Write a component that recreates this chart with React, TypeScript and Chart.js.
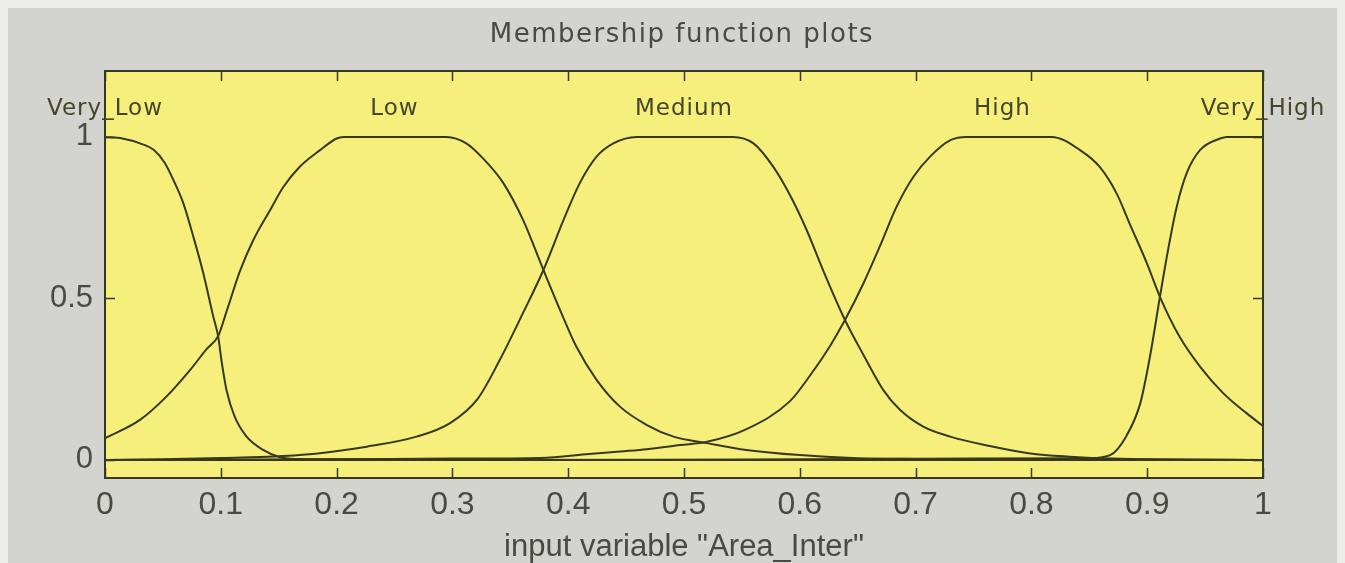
import React, { useEffect, useRef } from 'react';
import { Chart, registerables } from 'chart.js';

Chart.register(...registerables);

// ---- text ----
const TITLE = 'Membership function plots';
const X_TITLE = 'input variable "Area_Inter"';

// ---- ticks ----
const X_TICKS = [0, 0.1, 0.2, 0.3, 0.4, 0.5, 0.6, 0.7, 0.8, 0.9, 1];
const X_TICK_LABELS = ['0', '0.1', '0.2', '0.3', '0.4', '0.5', '0.6', '0.7', '0.8', '0.9', '1'];
const Y_TICKS = [0, 0.5, 1];
const Y_TICK_LABELS = ['0', '0.5', '1'];

// ---- membership function names and label positions ----
const MF_NAMES = ['Very_Low', 'Low', 'Medium', 'High', 'Very_High'];
const MF_LABEL_X = [0, 0.25, 0.5, 0.775, 1];
const MF_LABEL_Y = 1.067;

// ---- series ----
const VERY_LOW_X = [0, 0.015, 0.0302, 0.042, 0.0515, 0.059, 0.0676, 0.0763, 0.0849, 0.0935, 0.0978, 0.1007, 0.105, 0.112, 0.1223, 0.1366, 0.151, 0.165, 0.2, 0.3, 0.5, 0.7, 1];
const VERY_LOW_Y = [1, 0.995, 0.98, 0.96, 0.92, 0.867, 0.795, 0.691, 0.578, 0.444, 0.381, 0.305, 0.215, 0.134, 0.072, 0.031, 0.008, 0.003, 0.002, 0.001, 0, 0, 0];

const LOW_X = [0, 0.0302, 0.053, 0.0734, 0.0877, 0.0978, 0.105, 0.1166, 0.128, 0.1425, 0.154, 0.168, 0.1857, 0.2, 0.206, 0.295, 0.312, 0.326, 0.344, 0.361, 0.3786, 0.393, 0.407, 0.4245, 0.4447, 0.468, 0.491, 0.52, 0.554, 0.6, 0.646, 0.7, 0.8, 1];
const LOW_Y = [0.067, 0.124, 0.196, 0.278, 0.343, 0.384, 0.46, 0.585, 0.68, 0.773, 0.845, 0.907, 0.959, 0.995, 1, 1, 0.98, 0.935, 0.857, 0.743, 0.588, 0.464, 0.351, 0.248, 0.165, 0.108, 0.072, 0.052, 0.031, 0.015, 0.006, 0.003, 0.001, 0];

const MEDIUM_X = [0, 0.05, 0.1, 0.168, 0.226, 0.269, 0.298, 0.322, 0.341, 0.361, 0.3786, 0.396, 0.41, 0.4245, 0.439, 0.459, 0.542, 0.56, 0.577, 0.5915, 0.606, 0.62, 0.639, 0.655, 0.672, 0.6865, 0.7066, 0.73, 0.764, 0.799, 0.833, 0.87, 1];
const MEDIUM_Y = [0, 0.002, 0.006, 0.015, 0.041, 0.072, 0.114, 0.19, 0.31, 0.455, 0.588, 0.743, 0.857, 0.939, 0.98, 1, 1, 0.98, 0.908, 0.82, 0.711, 0.588, 0.433, 0.325, 0.217, 0.155, 0.103, 0.072, 0.043, 0.02, 0.01, 0.004, 0];

const HIGH_X = [0, 0.2, 0.3, 0.376, 0.418, 0.445, 0.468, 0.4965, 0.52, 0.554, 0.5915, 0.609, 0.626, 0.639, 0.655, 0.669, 0.6836, 0.698, 0.7125, 0.73, 0.744, 0.8175, 0.842, 0.859, 0.874, 0.885, 0.8996, 0.911, 0.928, 0.9456, 0.9658, 0.986, 1];
const HIGH_Y = [0, 0.002, 0.004, 0.006, 0.018, 0.026, 0.033, 0.046, 0.056, 0.095, 0.182, 0.262, 0.352, 0.433, 0.547, 0.66, 0.784, 0.876, 0.939, 0.99, 1, 1, 0.959, 0.907, 0.822, 0.73, 0.61, 0.505, 0.381, 0.289, 0.206, 0.144, 0.105];

const VERY_HIGH_X = [0, 0.4, 0.6, 0.75, 0.8477, 0.868, 0.8817, 0.894, 0.9024, 0.911, 0.918, 0.9255, 0.934, 0.9456, 0.9629, 0.9686, 1];
const VERY_HIGH_Y = [0, 0, 0.002, 0.004, 0.005, 0.015, 0.072, 0.175, 0.32, 0.505, 0.65, 0.784, 0.887, 0.959, 0.995, 1, 1];

const SERIES_X = [VERY_LOW_X, LOW_X, MEDIUM_X, HIGH_X, VERY_HIGH_X];
const SERIES_Y = [VERY_LOW_Y, LOW_Y, MEDIUM_Y, HIGH_Y, VERY_HIGH_Y];

// ---- styles ----
const PAGE_BG = '#ecece9';
const GRAY = '#d3d3cf';
const YELLOW = '#f7ef7b';
const INK = '#38381f';
const TEXT = '#4a4a42';

const framePlugin = {
  id: 'mfFrame',
  beforeDraw(chart: any) {
    const { ctx, width, height, chartArea: a } = chart;
    ctx.save();
    ctx.fillStyle = GRAY;
    ctx.fillRect(0, 0, width, height);
    ctx.fillStyle = YELLOW;
    ctx.fillRect(a.left, a.top, a.right - a.left, a.bottom - a.top);
    ctx.restore();
  },
  afterDraw(chart: any) {
    const { ctx, chartArea: a, scales } = chart;
    const xs = scales.x;
    const ys = scales.y;
    ctx.save();
    // border
    ctx.strokeStyle = INK;
    ctx.lineWidth = 2;
    ctx.strokeRect(a.left, a.top, a.right - a.left, a.bottom - a.top);
    // inward ticks
    ctx.lineWidth = 1.5;
    const tl = 10;
    ctx.beginPath();
    X_TICKS.forEach((v) => {
      const px = Math.round(xs.getPixelForValue(v)) + 0.5;
      ctx.moveTo(px, a.bottom);
      ctx.lineTo(px, a.bottom - tl);
      ctx.moveTo(px, a.top);
      ctx.lineTo(px, a.top + tl);
    });
    Y_TICKS.forEach((v) => {
      const py = Math.round(ys.getPixelForValue(v)) + 0.5;
      ctx.moveTo(a.left, py);
      ctx.lineTo(a.left + tl, py);
      ctx.moveTo(a.right, py);
      ctx.lineTo(a.right - tl, py);
    });
    ctx.stroke();
    // title
    ctx.fillStyle = TEXT;
    ctx.textAlign = 'center';
    ctx.textBaseline = 'alphabetic';
    ctx.font = '26px "DejaVu Sans"';
    (ctx as any).letterSpacing = '1.5px';
    ctx.fillText(TITLE, (a.left + a.right) / 2 - 2, 34);
    // MF labels
    ctx.fillStyle = '#45452c';
    ctx.font = '23px "DejaVu Sans"';
    (ctx as any).letterSpacing = '1px';
    MF_NAMES.forEach((name, i) => {
      ctx.fillText(name, xs.getPixelForValue(MF_LABEL_X[i]), ys.getPixelForValue(MF_LABEL_Y));
    });
    (ctx as any).letterSpacing = '0px';
    ctx.restore();
  },
};

export default function App() {
  const ref = useRef<HTMLCanvasElement | null>(null);

  useEffect(() => {
    document.body.style.background = PAGE_BG;
    if (!ref.current) return;
    const datasets = MF_NAMES.map((name, i) => ({
      label: name,
      data: SERIES_X[i].map((x, j) => ({ x, y: SERIES_Y[i][j] })),
      borderColor: INK,
      borderWidth: 2,
      pointRadius: 0,
      fill: false,
      cubicInterpolationMode: 'monotone' as const,
    }));
    const chart = new Chart(ref.current, {
      type: 'line',
      data: { datasets },
      plugins: [framePlugin],
      options: {
        animation: false,
        responsive: false,
        devicePixelRatio: 1,
        layout: { padding: { left: 0, right: 74, top: 63, bottom: 0 } },
        plugins: { legend: { display: false }, tooltip: { enabled: false }, title: { display: false } },
        scales: {
          x: {
            type: 'linear',
            min: 0,
            max: 1,
            grid: { display: false, drawTicks: false },
            border: { display: false },
            afterBuildTicks: (s: any) => { s.ticks = X_TICKS.map((v) => ({ value: v })); },
            afterFit: (s: any) => { s.height = 85; },
            ticks: {
              autoSkip: false,
              maxRotation: 0,
              padding: 8,
              color: TEXT,
              font: { family: '"Liberation Sans"', size: 32 },
              callback: (v: any) => X_TICK_LABELS[X_TICKS.indexOf(Number(v))] ?? '',
            },
            title: {
              display: true,
              text: X_TITLE,
              color: TEXT,
              padding: { top: 0, bottom: 0 },
              font: { family: '"Liberation Sans"', size: 31, lineHeight: 1 },
            },
          },
          y: {
            type: 'linear',
            min: -0.056,
            max: 1.204,
            grid: { display: false, drawTicks: false },
            border: { display: false },
            afterBuildTicks: (s: any) => { s.ticks = Y_TICKS.map((v) => ({ value: v })); },
            afterFit: (s: any) => { s.width = 97; },
            ticks: {
              padding: 12,
              color: TEXT,
              font: { family: '"Liberation Sans"', size: 31 },
              callback: (v: any) => Y_TICK_LABELS[Y_TICKS.indexOf(Number(v))] ?? '',
            },
          },
        },
      },
    });
    return () => chart.destroy();
  }, []);

  return (
    <div style={{ width: 1329, height: 555 }}>
      <canvas ref={ref} width={1329} height={555} style={{ display: 'block' }} />
    </div>
  );
}
